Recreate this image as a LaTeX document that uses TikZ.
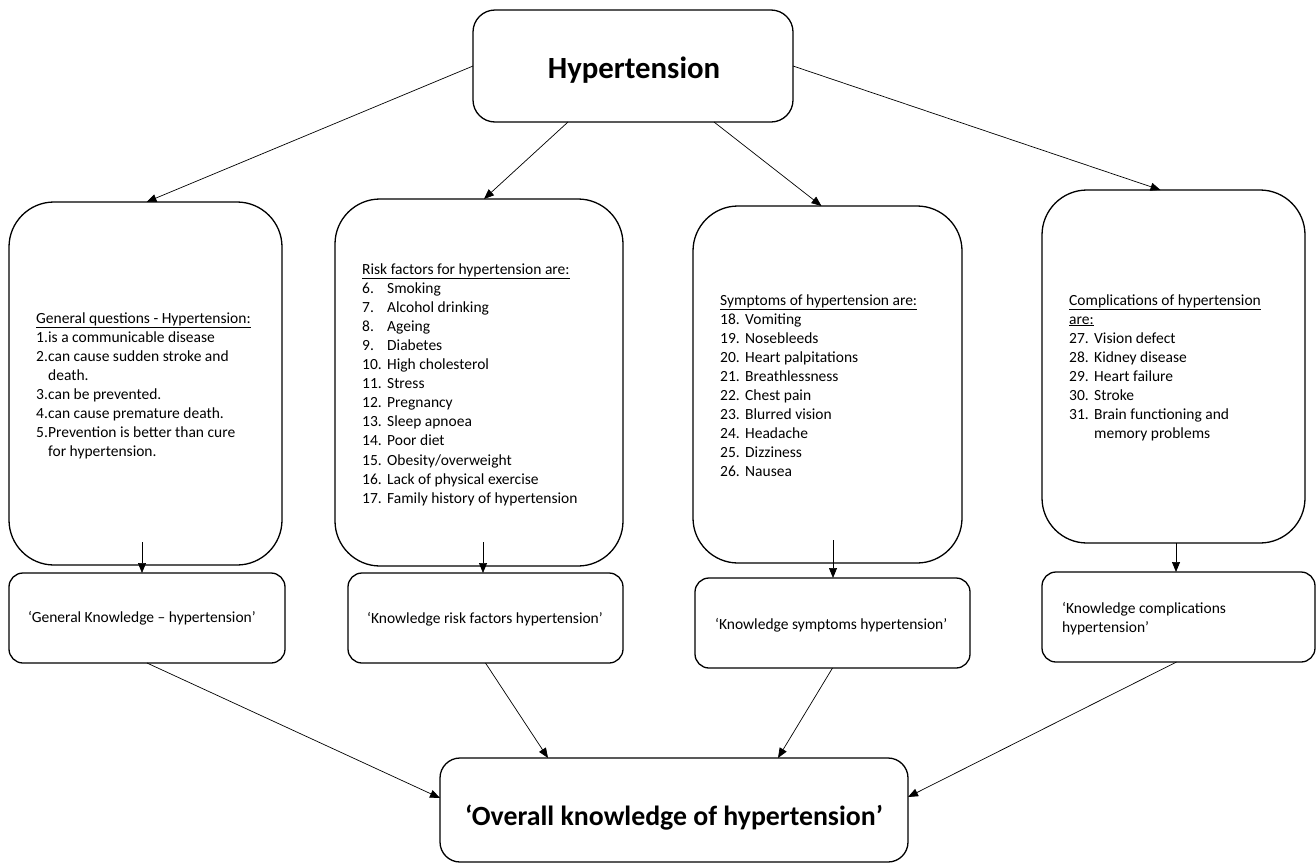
\documentclass[tikz,border=0pt]{standalone}
\usepackage{fontspec}
\setmainfont{Carlito}
\usetikzlibrary{arrows.meta,calc}
\newcommand\itm[2]{\makebox[25pt][l]{#1}#2}
\newcommand\gitm[2]{\makebox[12pt][l]{#1}#2}
\begin{document}
\begin{tikzpicture}[x=1pt,y=-1pt,
  box/.style={draw, line width=1.3pt, rounded corners=#1, inner sep=0pt, outer sep=0pt},
  arr/.style={-{Triangle[length=10pt,width=8pt]}, line width=0.7pt},
  txt/.style={anchor=base west, inner sep=0pt, font=\fontsize{15.5}{19.1}\selectfont}]
\useasboundingbox (0,0) rectangle (1316,865);
% boxes
\node[box=22, minimum width=320, minimum height=112] (top) at (633,66) {};
\node[box=45, minimum width=273, minimum height=363] (g) at (145.5,383.5) {};
\node[box=45, minimum width=288, minimum height=367] (r) at (479,382.5) {};
\node[box=45, minimum width=269, minimum height=357] (s) at (827.5,384.5) {};
\node[box=45, minimum width=263, minimum height=353] (c) at (1173.5,366.5) {};
\node[box=14, minimum width=276, minimum height=90] (gk) at (147,618) {};
\node[box=14, minimum width=275, minimum height=90] (rk) at (485.5,618) {};
\node[box=14, minimum width=275, minimum height=90] (sk) at (832.5,623) {};
\node[box=14, minimum width=273, minimum height=90] (ck) at (1178.5,617) {};
\node[box=20, minimum width=468, minimum height=104] (o) at (674,810) {};
% titles
\node[anchor=base, inner sep=0pt, font=\fontsize{30.8}{36}\selectfont\bfseries] (toptxt) at (634,78) {Hypertension};
\node[anchor=base, inner sep=0pt, font=\fontsize{27.8}{33}\selectfont\bfseries] (otxt) at (674,825) {‘Overall knowledge of hypertension’};
% list texts
\node[txt] (gtxt) at (36,323) {\begin{tabular}[t]{@{}l@{}}
\underline{General questions - Hypertension:}\\
\gitm{1.}{is a communicable disease}\\
\gitm{2.}{can cause sudden stroke and}\\
\hspace*{12pt}death.\\
\gitm{3.}{can be prevented.}\\
\gitm{4.}{can cause premature death.}\\
\gitm{5.}{Prevention is better than cure}\\
\hspace*{12pt}for hypertension.
\end{tabular}};
\node[txt] (rtxt) at (362,274) {\begin{tabular}[t]{@{}l@{}}
\underline{Risk factors for hypertension are:}\\
\itm{6.}{Smoking}\\
\itm{7.}{Alcohol drinking}\\
\itm{8.}{Ageing}\\
\itm{9.}{Diabetes}\\
\itm{10.}{High cholesterol}\\
\itm{11.}{Stress}\\
\itm{12.}{Pregnancy}\\
\itm{13.}{Sleep apnoea}\\
\itm{14.}{Poor diet}\\
\itm{15.}{Obesity/overweight}\\
\itm{16.}{Lack of physical exercise}\\
\itm{17.}{Family history of hypertension}
\end{tabular}};
\node[txt] (stxt) at (720,305) {\begin{tabular}[t]{@{}l@{}}
\underline{Symptoms of hypertension are:}\\
\itm{18.}{Vomiting}\\
\itm{19.}{Nosebleeds}\\
\itm{20.}{Heart palpitations}\\
\itm{21.}{Breathlessness}\\
\itm{22.}{Chest pain}\\
\itm{23.}{Blurred vision}\\
\itm{24.}{Headache}\\
\itm{25.}{Dizziness}\\
\itm{26.}{Nausea}
\end{tabular}};
\node[txt] (ctxt) at (1069,305) {\begin{tabular}[t]{@{}l@{}}
\underline{Complications of hypertension}\\
\underline{are:}\\
\itm{27.}{Vision defect}\\
\itm{28.}{Kidney disease}\\
\itm{29.}{Heart failure}\\
\itm{30.}{Stroke}\\
\itm{31.}{Brain functioning and}\\
\hspace*{25pt}memory problems
\end{tabular}};
\node[txt] (gktxt) at (28,622) {‘General Knowledge – hypertension’};
\node[txt] (rktxt) at (367,623) {‘Knowledge risk factors hypertension’};
\node[txt] (sktxt) at (715,629) {‘Knowledge symptoms hypertension’};
\node[txt] (cktxt) at (1062,613) {\begin{tabular}[t]{@{}l@{}}‘Knowledge complications\\ hypertension’\end{tabular}};
% connectors
\draw[arr] (top.west) -- ([xshift=1pt]g.north);
\draw[arr] ([xshift=-65pt]top.south) -- ([xshift=5pt]r.north);
\draw[arr] ([xshift=81pt]top.south) -- ([xshift=-6pt]s.north);
\draw[arr] (top.east) -- ([xshift=-13pt]c.north);
\draw[arr] ($(g.south)+(-3.5,-23)$) -- ($(g.south |- gk.north)+(-3.5,0)$);
\draw[arr] ($(r.south)+(4,-24)$) -- ($(r.south |- rk.north)+(4,0)$);
\draw[arr] ($(s.south)+(5.5,-23)$) -- ($(s.south |- sk.north)+(5.5,0)$);
\draw[arr] ($(c.south)+(2.5,0)$) -- ($(c.south |- ck.north)+(2.5,0)$);
\draw[arr] (gk.south) -- ([yshift=12pt]o.west);
\draw[arr] (rk.south) -- ([xshift=-126pt]o.north);
\draw[arr] (sk.south) -- ([xshift=104pt]o.north);
\draw[arr] ([xshift=-2pt]ck.south) -- ([yshift=13pt]o.east);
\end{tikzpicture}
\end{document}
